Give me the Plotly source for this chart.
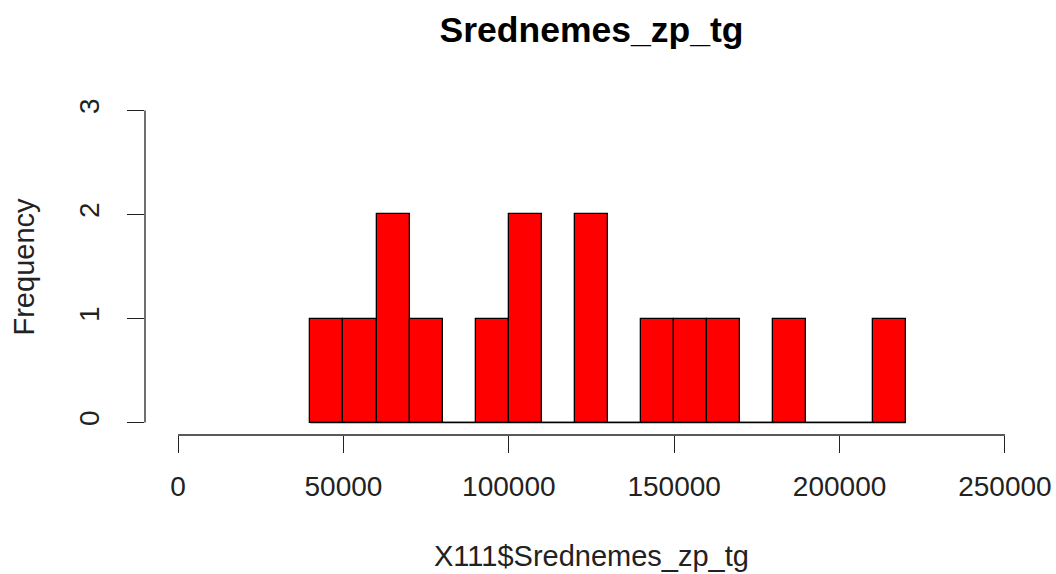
import plotly.graph_objects as go

# Histogram data (R-style hist, bins of 10000)
bin_edges = [40000, 50000, 60000, 70000, 80000, 90000, 100000, 110000, 120000,
             130000, 140000, 150000, 160000, 170000, 180000, 190000, 200000,
             210000, 220000]
counts = [1, 1, 2, 1, 0, 1, 2, 0, 2, 0, 1, 1, 1, 0, 1, 0, 0, 1]
x_ticks = [0, 50000, 100000, 150000, 200000, 250000]
y_ticks = [0, 1, 2, 3]

title_text = "Srednemes_zp_tg"
x_label = "X111$Srednemes_zp_tg"
y_label = "Frequency"

centers = [(a + b) / 2 for a, b in zip(bin_edges[:-1], bin_edges[1:])]
widths = [b - a for a, b in zip(bin_edges[:-1], bin_edges[1:])]

FONT = "Liberation Sans, Arial, sans-serif"

fig = go.Figure()
# baseline for zero-height bins
fig.add_trace(go.Scatter(
    x=[bin_edges[0], bin_edges[-1]], y=[0, 0], mode="lines",
    line=dict(color="black", width=1.3), hoverinfo="skip", showlegend=False))
fig.add_trace(go.Bar(
    x=centers, y=counts, width=widths,
    marker=dict(color="#FF0000", line=dict(color="black", width=1.3)),
    showlegend=False))

W, H = 1056, 574
ml, mr, mt, mb = 145, 18, 98, 138.5

fig.update_layout(
    width=W, height=H,
    margin=dict(l=ml, r=mr, t=mt, b=mb, pad=0, autoexpand=False),
    paper_bgcolor="white", plot_bgcolor="white",
    font=dict(family=FONT, size=28, color="black"),
    bargap=0,
    title=dict(text="<b>" + title_text + "</b>", x=(ml + (W - ml - mr) / 2) / W,
               xanchor="center", y=1 - 30 / H, yanchor="middle",
               automargin=False,
               font=dict(family=FONT, size=35.5, color="black")),
    xaxis=dict(range=[-10000, 260000], tickmode="array", tickvals=x_ticks,
               ticktext=[str(v) for v in x_ticks], ticks="outside", ticklen=17,
               tickwidth=1.3, tickcolor="#222", showgrid=False, zeroline=False,
               showline=False, ticklabelstandoff=9, automargin=False,
               tickfont=dict(family=FONT, size=28, color="#222")),
    yaxis=dict(range=[-0.12, 3.12], tickmode="array", tickvals=y_ticks,
               ticktext=[str(v) for v in y_ticks], ticks="outside", ticklen=17,
               tickwidth=1.3, tickcolor="#222", showgrid=False, zeroline=False,
               showline=False, tickangle=-90, ticklabelstandoff=17,
               automargin=False,
               tickfont=dict(family=FONT, size=28, color="#222")),
    shapes=[
        dict(type="line", xref="x", yref="paper", x0=x_ticks[0], x1=x_ticks[-1],
             y0=0, y1=0, line=dict(color="#222", width=1.3)),
        dict(type="line", xref="paper", yref="y", x0=0, x1=0,
             y0=y_ticks[0], y1=y_ticks[-1], line=dict(color="#222", width=1.3)),
    ],
    annotations=[
        dict(text=x_label, xref="paper", yref="paper", x=0.5,
             y=-(557 - (H - mb)) / (H - mt - mb), xanchor="center",
             yanchor="middle", showarrow=False,
             font=dict(family=FONT, size=29, color="#222")),
        dict(text=y_label, xref="paper", yref="paper",
             x=-(ml - 23) / (W - ml - mr), y=0.5, xanchor="center",
             yanchor="middle", textangle=-90, showarrow=False,
             font=dict(family=FONT, size=29, color="#222")),
    ],
)

fig.write_html("out.html",
               config={"displayModeBar": False},
               post_script="document.body.style.margin='0';"
                           "document.body.style.overflow='hidden';")
